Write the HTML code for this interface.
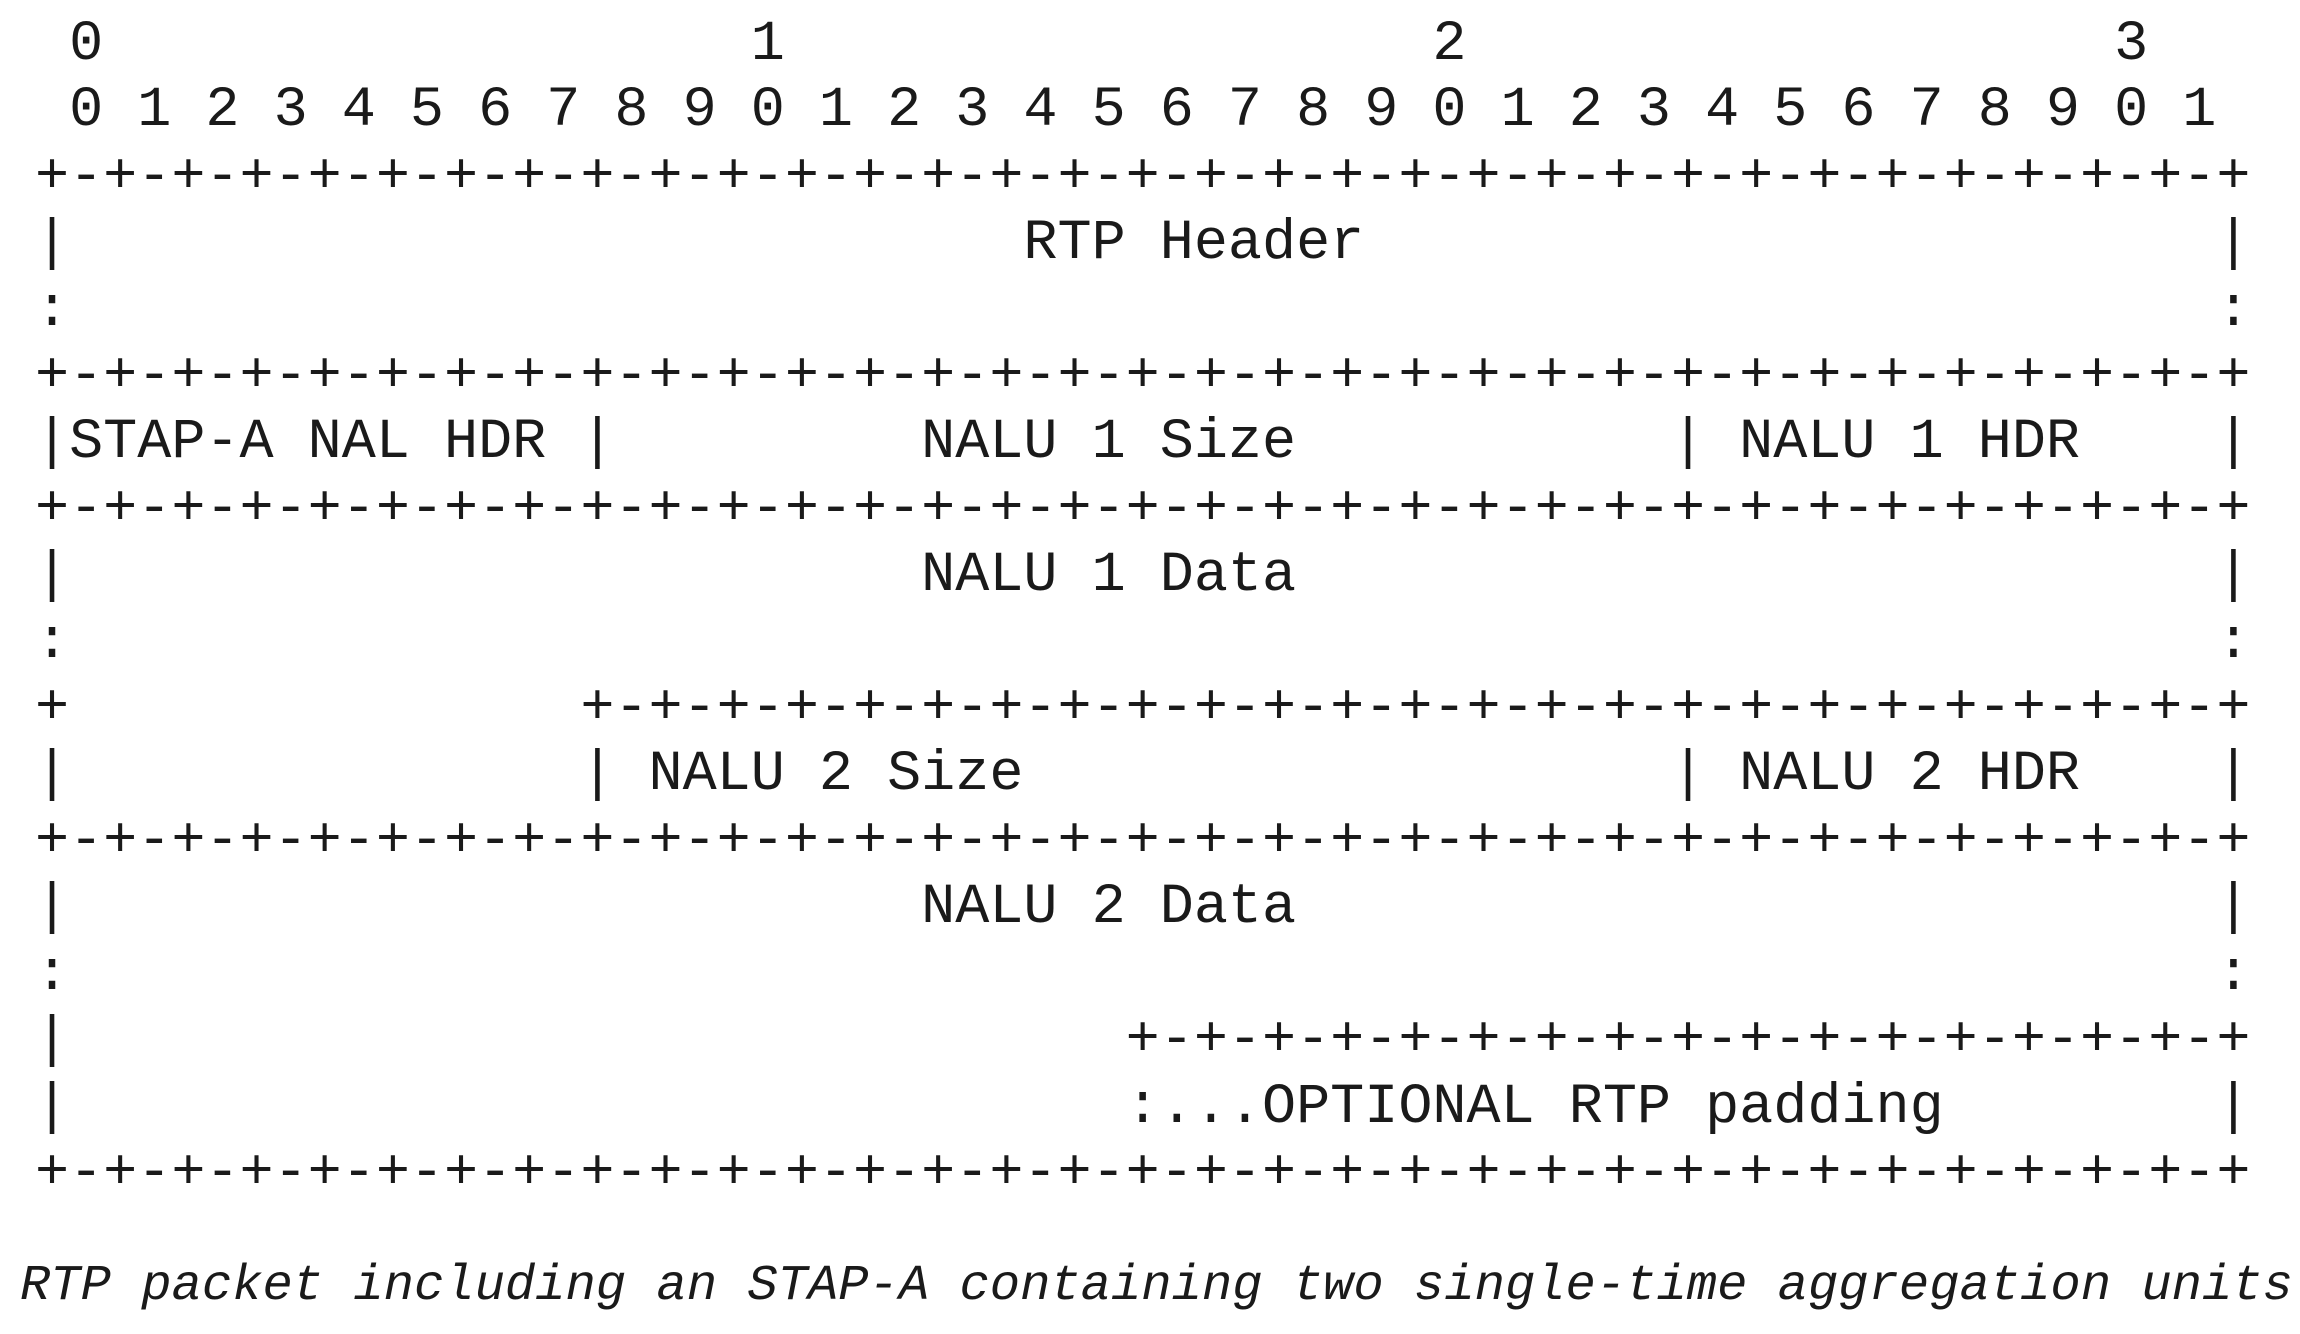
<!DOCTYPE html>
<html><head><meta charset="utf-8"><style>
html,body{margin:0;padding:0;background:#fff;width:2300px;height:1334px;overflow:hidden}
pre{position:absolute;left:35px;top:12px;margin:0;font-family:"Liberation Mono",monospace;font-size:56.8px;line-height:66.4px;color:#1a1a1a}
.cap{position:absolute;left:20px;top:1254px;margin:0;font-family:"Liberation Mono",monospace;font-style:italic;font-size:50.5px;line-height:66px;color:#1a1a1a;white-space:pre}
</style></head><body>
<pre> 0                   1                   2                   3
 0 1 2 3 4 5 6 7 8 9 0 1 2 3 4 5 6 7 8 9 0 1 2 3 4 5 6 7 8 9 0 1
+-+-+-+-+-+-+-+-+-+-+-+-+-+-+-+-+-+-+-+-+-+-+-+-+-+-+-+-+-+-+-+-+
|                            RTP Header                         |
:                                                               :
+-+-+-+-+-+-+-+-+-+-+-+-+-+-+-+-+-+-+-+-+-+-+-+-+-+-+-+-+-+-+-+-+
|STAP-A NAL HDR |         NALU 1 Size           | NALU 1 HDR    |
+-+-+-+-+-+-+-+-+-+-+-+-+-+-+-+-+-+-+-+-+-+-+-+-+-+-+-+-+-+-+-+-+
|                         NALU 1 Data                           |
:                                                               :
+               +-+-+-+-+-+-+-+-+-+-+-+-+-+-+-+-+-+-+-+-+-+-+-+-+
|               | NALU 2 Size                   | NALU 2 HDR    |
+-+-+-+-+-+-+-+-+-+-+-+-+-+-+-+-+-+-+-+-+-+-+-+-+-+-+-+-+-+-+-+-+
|                         NALU 2 Data                           |
:                                                               :
|                               +-+-+-+-+-+-+-+-+-+-+-+-+-+-+-+-+
|                               :...OPTIONAL RTP padding        |
+-+-+-+-+-+-+-+-+-+-+-+-+-+-+-+-+-+-+-+-+-+-+-+-+-+-+-+-+-+-+-+-+</pre>
<div class="cap">RTP packet including an STAP-A containing two single-time aggregation units</div>
</body></html>
